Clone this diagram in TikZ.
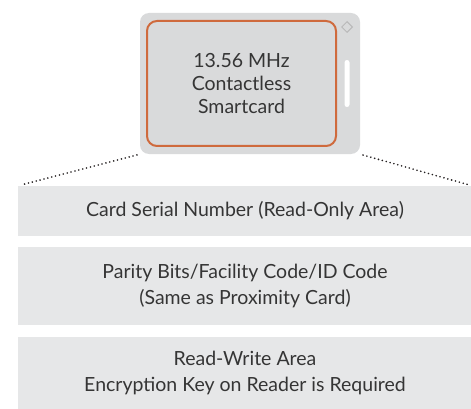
\documentclass[tikz,border=0pt]{standalone}
\usepackage{fontspec}
\setmainfont{Lato}
\usepackage{xcolor}
\usepackage{tikz}
\usetikzlibrary{positioning,shapes.geometric}

\definecolor{cardgray}{HTML}{D9DADB}
\definecolor{layergray}{HTML}{E6E7E8}
\definecolor{chiporange}{HTML}{CF6A3D}
\definecolor{labelgray}{HTML}{353535}
\definecolor{dotgray}{HTML}{231F20}

\begin{document}
\begin{tikzpicture}[
    x=1pt, y=-1pt,
    layer/.style={rectangle, fill=layergray, minimum width=454pt, inner sep=0pt, align=center, text=labelgray, font=\fontsize{19.5}{26}\selectfont},
    cardbody/.style={rectangle, fill=cardgray, rounded corners=9pt, minimum width=220pt, minimum height=141pt, inner sep=0pt},
    chip/.style={rectangle, draw=chiporange, line width=2pt, rounded corners=10pt, minimum width=189pt, minimum height=125pt, align=center, text=labelgray, font=\fontsize{19.5}{23}\selectfont},
    zoomline/.style={dotgray, line width=1.8pt, line cap=round, dash pattern=on 0pt off 4pt, shorten <=3pt, shorten >=4pt}
]
    \useasboundingbox (0,0) rectangle (471,409);

    % Card
    \node[cardbody] (card) at (250,83.5) {};
    \node[chip] (chipedge) at (241.5,83.5) {13.56 MHz\\Contactless\\Smartcard};
    \node[diamond, draw=gray!55, line width=1pt, fill=cardgray, minimum size=11pt, inner sep=0pt] (hole) at (347,27) {};
    \node[rectangle, fill=white, rounded corners=2.5pt, minimum width=5pt, minimum height=47pt, inner sep=0pt] (slot) at (347,83.5) {};

    % Memory layers
    \node[layer, minimum height=50pt] (serial) at (245,211) {Card Serial Number (Read-Only Area)};
    \node[layer, minimum height=78pt, below=11pt of serial] (parity) {Parity Bits/Facility Code/ID Code\\(Same as Proximity Card)};
    \node[layer, minimum height=72pt, below=11pt of parity] (rwarea) {Read-Write Area\\Encryption Key on Reader is Required};

    % Zoom lines
    \draw[zoomline] (card.south west) -- (serial.north west);
    \draw[zoomline] (card.south east) -- (serial.north east);

\end{tikzpicture}
\end{document}
